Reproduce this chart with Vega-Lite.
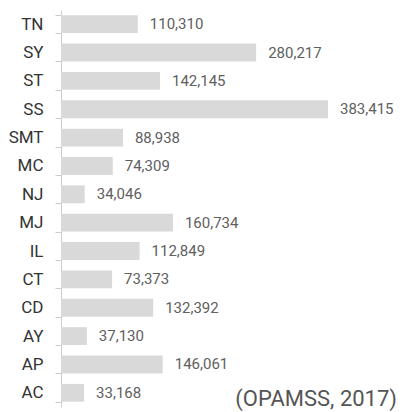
{
  "$schema": "https://vega.github.io/schema/vega-lite/v6.json",
  "autosize": "none",
  "width": 340,
  "height": 397,
  "padding": {"left": 61, "top": 10, "right": 8, "bottom": 5},
  "background": "white",
  "config": {"view": {"stroke": null}},
  "title": {
    "text": "(OPAMSS, 2017)", "orient": "bottom", "anchor": "end",
    "offset": -8, "baseline": "middle", "dx": -4,
    "font": "Roboto", "fontSize": 22, "fontWeight": "normal", "color": "#555555"
  },
  "data": {"values": [
    {"code": "TN", "value": 110310},
    {"code": "SY", "value": 280217},
    {"code": "ST", "value": 142145},
    {"code": "SS", "value": 383415},
    {"code": "SMT", "value": 88938},
    {"code": "MC", "value": 74309},
    {"code": "NJ", "value": 34046},
    {"code": "MJ", "value": 160734},
    {"code": "IL", "value": 112849},
    {"code": "CT", "value": 73373},
    {"code": "CD", "value": 132392},
    {"code": "AY", "value": 37130},
    {"code": "AP", "value": 146061},
    {"code": "AC", "value": 33168}
  ]},
  "encoding": {
    "y": {
      "field": "code", "type": "nominal", "sort": null,
      "scale": {"paddingInner": 0.37, "paddingOuter": 0.185},
      "axis": {
        "title": null, "domainColor": "#cccccc", "tickColor": "#cccccc",
        "tickSize": 6, "tickBand": "extent", "labelFont": "Roboto",
        "labelFontSize": 17, "labelColor": "#333333", "labelPadding": 12
      }
    },
    "x": {
      "field": "value", "type": "quantitative",
      "scale": {"domain": [0, 488250], "nice": false},
      "axis": null
    }
  },
  "layer": [
    {"mark": {"type": "bar", "color": "#d9d9d9"}},
    {
      "mark": {"type": "text", "align": "left", "baseline": "middle", "dx": 12, "font": "Roboto", "fontSize": 15, "color": "#606060"},
      "encoding": {"text": {"field": "value", "type": "quantitative", "format": ",d"}}
    }
  ]
}
